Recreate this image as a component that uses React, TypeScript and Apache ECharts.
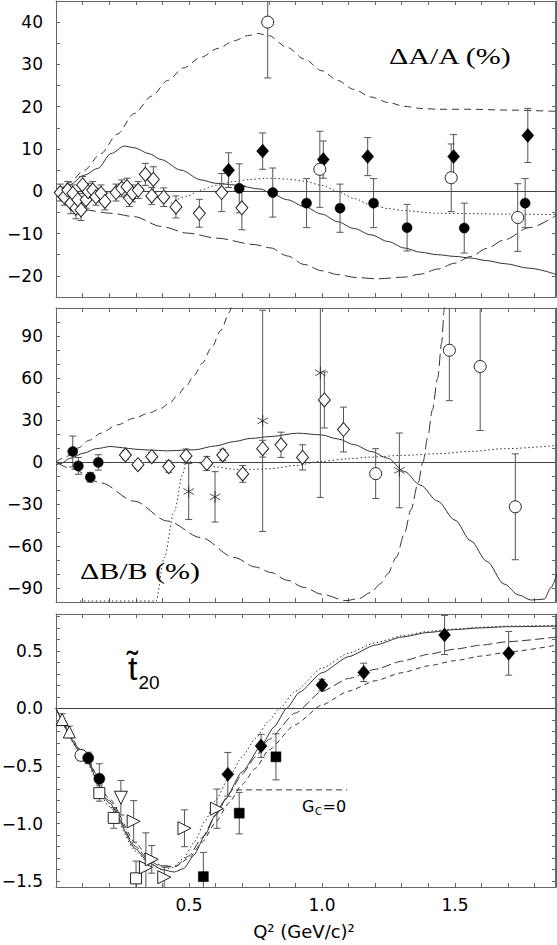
import React, { useEffect, useRef } from "react";
import * as echarts from "echarts";

// ---------- axes: ticks and labels ----------
const X_MIN = 0;
const X_MAX = 1.88;
const xTicks = [0.1, 0.2, 0.3, 0.4, 0.5, 0.6, 0.7, 0.8, 0.9, 1.0, 1.1, 1.2, 1.3, 1.4, 1.5, 1.6, 1.7, 1.8];
const xLabels = [0.5, 1.0, 1.5];

const yRangeA = [-25, 45];
const yTicksA = [-20, -15, -10, -5, 0, 5, 10, 15, 20, 25, 30, 35, 40];
const yLabelsA = [-20, -10, 0, 10, 20, 30, 40];

const yRangeB = [-100, 110];
const yTicksB = [-90, -80, -70, -60, -50, -40, -30, -20, -10, 0, 10, 20, 30, 40, 50, 60, 70, 80, 90, 100];
const yLabelsB = [-90, -60, -30, 0, 30, 60, 90];

const yRangeT = [-1.55, 0.82];
const yTicksT = [-1.5, -1.4, -1.3, -1.2, -1.1, -1.0, -0.9, -0.8, -0.7, -0.6, -0.5, -0.4, -0.3, -0.2, -0.1, 0, 0.1, 0.2, 0.3, 0.4, 0.5, 0.6, 0.7, 0.8];
const yLabelsT = [-1.5, -1.0, -0.5, 0.0, 0.5];

// ---------- panel 1: ΔA/A (%) ----------  [Q2, value, error]
const A_openDiamond = [
  [0.016, -0.3, 2], [0.031, -1.3, 2], [0.044, 0.3, 2], [0.056, -2.8, 2.5], [0.063, -0.5, 2],
  [0.075, -4.0, 2.5], [0.082, -2.0, 2], [0.094, -4.4, 2.5], [0.1, 1.5, 2], [0.113, -2.0, 2],
  [0.121, -0.1, 2], [0.138, 0.3, 2], [0.15, -1.3, 2], [0.169, -0.5, 2], [0.184, -2.4, 2],
  [0.226, -0.3, 2], [0.247, 0.7, 2], [0.267, 1.1, 2], [0.276, -1.6, 2], [0.288, -0.5, 2],
  [0.309, 0.3, 2], [0.336, 4.0, 2.6], [0.36, -1.1, 2], [0.366, 2.8, 3], [0.405, -1.4, 2.2],
  [0.451, -3.7, 2.6], [0.539, -5.2, 3.3], [0.623, -0.3, 4.5], [0.699, -3.9, 5.2],
];
const A_fullDiamond = [
  [0.649, 5.0, 4.1], [0.777, 9.5, 4.3], [1.005, 7.5, 4.4], [1.172, 8.2, 4.5], [1.495, 8.2, 5.2], [1.774, 13.2, 6.4],
];
const A_fullCircle = [
  [0.689, 0.7, 5.8], [0.815, -0.3, 5.8], [0.942, -2.8, 5.8], [1.068, -4.0, 5.7],
  [1.194, -2.8, 5.8], [1.32, -8.6, 5.5], [1.535, -8.7, 5.9], [1.764, -2.8, 5.8],
];
const A_openCircle = [
  [0.796, 40, 13.2], [0.992, 5.2, 9], [1.486, 3.2, 8], [1.736, -6.2, 8],
];
const A_curveSolid = [
  [0, 0], [0.05, 1.5], [0.106, 3.8], [0.157, 5.4], [0.207, 8.9], [0.257, 10.7], [0.294, 10.3],
  [0.35, 8.9], [0.395, 7.5], [0.47, 5.0], [0.545, 2.7], [0.6, 1.9], [0.67, 1.5], [0.771, 0.5],
  [0.808, -0.5], [0.87, -2.0], [0.933, -3.6], [1.0, -5.4], [1.059, -7.2], [1.12, -8.8], [1.184, -10.3],
  [1.25, -11.9], [1.309, -13.4], [1.37, -14.4], [1.435, -15.0], [1.5, -15.4], [1.56, -15.8],
  [1.62, -16.4], [1.685, -17.1], [1.78, -18.2], [1.883, -19.7],
];
const A_curveDashed = [
  [0, 0], [0.05, 2], [0.106, 5.0], [0.169, 8.9], [0.23, 13.5], [0.294, 18.4], [0.36, 22.5],
  [0.42, 26.2], [0.48, 29.2], [0.545, 31.7], [0.61, 33.8], [0.67, 35.6], [0.72, 36.8], [0.76, 37.3],
  [0.8, 36.8], [0.87, 34], [0.933, 31.3], [1.0, 28.5], [1.059, 26.2], [1.12, 24.1], [1.184, 22.3],
  [1.25, 21], [1.309, 20.1], [1.37, 19.6], [1.435, 19.4], [1.56, 19.4], [1.7, 19.2], [1.883, 18.9],
];
const A_curveDashDot = [
  [0, 0], [0.05, -2.5], [0.106, -4.4], [0.207, -5.2], [0.294, -6.0], [0.395, -8.3], [0.495, -9.9],
  [0.608, -11.1], [0.745, -12.6], [0.808, -13.4], [0.87, -15.3], [0.933, -17.3], [1.0, -18.8],
  [1.059, -19.7], [1.13, -20.4], [1.209, -20.7], [1.309, -20.3], [1.37, -19.6], [1.435, -18.4],
  [1.5, -17], [1.56, -15.4], [1.62, -13.5], [1.685, -11.5], [1.78, -8.6], [1.883, -5.6],
];
const A_curveDotted = [
  [0.432, -2.8], [0.49, -1.2], [0.545, 0.3], [0.6, 1.4], [0.67, 2.3], [0.73, 2.8], [0.796, 3.1],
  [0.87, 2.9], [0.933, 2.4], [1.0, 1.4], [1.059, 0], [1.12, -1.7], [1.184, -3.2], [1.25, -4.1],
  [1.309, -4.6], [1.435, -5.2], [1.56, -5.3], [1.7, -5.4], [1.883, -5.5],
];

// ---------- panel 2: ΔB/B (%) ----------
const B_fullCircle = [
  [0.063, 7.5, 11], [0.084, -2.8, 6], [0.129, -10.9, 3.5], [0.159, -0.3, 5.5],
];
const B_openDiamond = [
  [0.261, 5, 3], [0.308, -1.9, 3], [0.36, 3.8, 3], [0.424, -3.3, 4], [0.489, 4.3, 5],
  [0.567, -1, 5], [0.627, 5, 4], [0.702, -8.5, 6], [0.777, 9.5, 6], [0.846, 12.3, 9],
  [0.927, 3.3, 9], [1.009, 44.3, 20], [1.081, 23.2, 16],
];
const B_star = [
  [0.499, -21.1, 20], [0.598, -24.9, 18], [0.777, 29.4, 79], [0.994, 63.7, 89], [1.291, -6.0, 26.7],
];
const B_openCircle = [
  [1.202, -8.3, 17.8], [1.479, 79.8, 36], [1.595, 68.2, 45.7], [1.727, -32.0, 37.8],
];
const B_curveSolid = [
  [0, -2], [0.02, -1], [0.05, 2.5], [0.106, 6.4], [0.15, 9.5], [0.207, 11.1], [0.25, 10.2],
  [0.294, 9.2], [0.35, 8.5], [0.42, 8], [0.52, 8.7], [0.6, 11.5], [0.67, 14.6], [0.73, 16.8],
  [0.808, 18.2], [0.909, 20.6], [0.996, 19.4], [1.06, 16.5], [1.122, 12.3], [1.185, 7.5],
  [1.247, 2.8], [1.309, -6.7], [1.37, -16.5], [1.435, -28], [1.5, -41.5], [1.56, -56.4],
  [1.62, -71], [1.685, -87.2], [1.74, -95], [1.786, -98.6], [1.836, -97.9], [1.86, -90], [1.883, -80],
];
const B_curveDashed = [
  [0, 0], [0.04, 4], [0.082, 10], [0.125, 15.5], [0.169, 20.6], [0.23, 26.5], [0.294, 31.3],
  [0.35, 35], [0.395, 38.4], [0.43, 42.5], [0.457, 47.8], [0.49, 54.5], [0.52, 62], [0.55, 70.5],
  [0.583, 81], [0.62, 94], [0.652, 107], [0.66, 112],
];
const B_curveDashDot = [
  [0, 0], [0.06, -5], [0.169, -14.9], [0.294, -28], [0.42, -42.2], [0.545, -54], [0.67, -68.2],
  [0.75, -75], [0.808, -78.9], [0.87, -84.5], [0.933, -89.6], [1.0, -94.5], [1.09, -99],
  [1.14, -97.5], [1.184, -93.1], [1.22, -87], [1.247, -80], [1.28, -68], [1.309, -51.7],
  [1.335, -34], [1.36, -16.1], [1.38, 0], [1.397, 17], [1.415, 37], [1.435, 59.7], [1.45, 85],
  [1.46, 109.5], [1.465, 120],
];
const B_curveDotted = [
  [0.09, -99.3], [0.376, -99.3], [0.407, -68.2], [0.445, -35.1], [0.476, -9], [0.489, 0.4],
  [0.545, -0.7], [0.6, -3.5], [0.67, -5.2], [0.75, -5.2], [0.808, -4.8], [0.9, -2.5], [0.994, 0.4],
  [1.1, 2.3], [1.184, 3.5], [1.3, 4.7], [1.435, 5.9], [1.56, 7.6], [1.685, 9.5], [1.883, 11.8],
];

// ---------- panel 3: t20 ----------
const T_triUp = [[0.023, -0.096, 0.05], [0.05, -0.204, 0.05]];
const T_openCircle = [[0.094, -0.407, 0.04]];
const T_fullCircle = [[0.121, -0.43, 0.05], [0.163, -0.61, 0.13]];
const T_openSquare = [[0.163, -0.735, 0.07], [0.217, -0.95, 0.09], [0.301, -1.475, 0.15]];
const T_triDown = [[0.244, -0.775, 0.15]];
const T_triRight = [
  [0.292, -0.98, 0.18], [0.338, -1.38, 0.3], [0.36, -1.31, 0.12], [0.407, -1.465, 0.1],
  [0.483, -1.04, 0.16], [0.605, -0.87, 0.17],
];
const T_fullSquare = [[0.554, -1.46, 0.21], [0.689, -0.909, 0.18], [0.827, -0.42, 0.2]];
const T_fullDiamond = [
  [0.646, -0.572, 0.19], [0.771, -0.325, 0.1], [1.0, 0.203, 0.05], [1.157, 0.313, 0.08],
  [1.461, 0.638, 0.17], [1.702, 0.479, 0.19],
];
const T_curveSolid = [
  [0, 0], [0.1, -0.4], [0.2, -0.82], [0.3, -1.22], [0.35, -1.34], [0.4, -1.4], [0.445, -1.42],
  [0.48, -1.39], [0.52, -1.27], [0.56, -1.1], [0.6, -0.92], [0.633, -0.8], [0.7, -0.55],
  [0.771, -0.325], [0.82, -0.16], [0.867, 0], [0.915, 0.14], [1.0, 0.31], [1.1, 0.45], [1.2, 0.55],
  [1.3, 0.62], [1.4, 0.66], [1.5, 0.685], [1.6, 0.7], [1.7, 0.71], [1.883, 0.715],
];
const T_curveDotted = [
  [0, 0], [0.1, -0.41], [0.2, -0.85], [0.3, -1.24], [0.35, -1.35], [0.4, -1.4], [0.44, -1.38],
  [0.48, -1.3], [0.52, -1.16], [0.56, -0.98], [0.6, -0.8], [0.65, -0.6], [0.7, -0.42],
  [0.75, -0.26], [0.8, -0.11], [0.84, 0], [0.9, 0.15], [1.0, 0.35], [1.1, 0.48], [1.2, 0.57],
  [1.3, 0.63], [1.4, 0.67], [1.5, 0.69], [1.6, 0.705], [1.7, 0.715], [1.883, 0.72],
];
const T_curveDashA = [
  [0, 0], [0.1, -0.38], [0.2, -0.8], [0.3, -1.2], [0.35, -1.32], [0.4, -1.38], [0.45, -1.37],
  [0.5, -1.28], [0.55, -1.12], [0.6, -0.93], [0.65, -0.74], [0.7, -0.57], [0.75, -0.42],
  [0.8, -0.27], [0.9, -0.04], [1.0, 0.15], [1.1, 0.26], [1.2, 0.34], [1.3, 0.41], [1.4, 0.47],
  [1.5, 0.515], [1.6, 0.55], [1.7, 0.58], [1.883, 0.62],
];
const T_curveDashB = [
  [0, 0], [0.1, -0.37], [0.2, -0.78], [0.3, -1.17], [0.35, -1.3], [0.4, -1.37], [0.45, -1.37],
  [0.5, -1.3], [0.55, -1.16], [0.6, -0.99], [0.65, -0.82], [0.7, -0.66], [0.75, -0.52],
  [0.8, -0.36], [0.9, -0.14], [1.0, 0.03], [1.1, 0.15], [1.2, 0.24], [1.3, 0.31], [1.4, 0.37],
  [1.5, 0.415], [1.6, 0.455], [1.7, 0.49], [1.883, 0.55],
];
const T_GC0 = [[0.677, -0.707], [1.094, -0.707]];

// ---------- styling ----------
const AX = "#666";
const LINE = "#333";
const ERR = "#555";
const FONT = "DejaVu Sans";
const STAR = "path://M0,-1L0,1M-0.87,-0.5L0.87,0.5M-0.87,0.5L0.87,-0.5";

const fmtInt = (v: number) => String(Math.round(v)).replace("-", "\u2212");
const fmtDec = (v: number) => (Math.abs(v) < 1e-9 ? "0.0" : v.toFixed(1).replace("-", "\u2212"));

function buildOption() {
  const grids = [
    { left: 56, width: 500, top: 1, height: 296 },
    { left: 56, width: 500, top: 308, height: 294 },
    { left: 56, width: 500, top: 614, height: 273 },
  ].map((g) => ({ ...g, show: false, containLabel: false, outerBoundsMode: "none" }));

  const axisLine = { show: true, onZero: false, lineStyle: { color: AX, width: 1 } };
  const xAxis: any[] = [];
  const yAxis: any[] = [];
  const yDefs = [
    { range: yRangeA, ticks: yTicksA, labels: yLabelsA, fmt: fmtInt },
    { range: yRangeB, ticks: yTicksB, labels: yLabelsB, fmt: fmtInt },
    { range: yRangeT, ticks: yTicksT, labels: yLabelsT, fmt: fmtDec },
  ];
  for (let g = 0; g < 3; g++) {
    const xb = {
      type: "value", gridIndex: g, min: X_MIN, max: X_MAX,
      splitLine: { show: false }, axisLine,
      axisTick: { show: true, inside: true, length: 4, customValues: xTicks, lineStyle: { color: AX, width: 1 } },
      minorTick: { show: false },
    };
    xAxis.push({
      ...xb, position: "bottom",
      axisLabel: g === 2
        ? { show: true, customValues: xLabels, formatter: fmtDec, fontFamily: FONT, fontSize: 17, color: "#000", margin: 9 }
        : { show: false },
    });
    xAxis.push({ ...xb, position: "top", axisLabel: { show: false } });
    const d = yDefs[g];
    const yb = {
      type: "value", gridIndex: g, min: d.range[0], max: d.range[1],
      splitLine: { show: false }, axisLine,
      axisTick: { show: true, inside: true, length: 4, customValues: d.ticks, lineStyle: { color: AX, width: 1 } },
      minorTick: { show: false },
    };
    yAxis.push({
      ...yb, position: "left",
      axisLabel: { show: true, customValues: d.labels, formatter: d.fmt, fontFamily: FONT, fontSize: 17, color: "#000", margin: 13 },
    });
    yAxis.push({ ...yb, position: "right", axisLabel: { show: false } });
  }

  const zeroLine = {
    silent: true, symbol: ["none", "none"], label: { show: false },
    lineStyle: { color: "#444", width: 1, type: "solid" }, data: [{ yAxis: 0 }],
  };

  const curve = (g: number, data: number[][], dash: any, withZero = false, smooth = 0.3) => ({
    type: "line", xAxisIndex: g * 2, yAxisIndex: g * 2, data,
    showSymbol: false, symbol: "none", smooth, smoothMonotone: "x",
    lineStyle: { color: LINE, width: 1, type: dash }, z: 2, silent: true, clip: true,
    ...(withZero ? { markLine: zeroLine } : {}),
  });

  const errRender = (params: any, api: any) => {
    const x = api.value(0), y = api.value(1), e = api.value(2);
    const t = api.coord([x, y + e]);
    const b = api.coord([x, y - e]);
    const w = 3.5;
    const st = { stroke: ERR, lineWidth: 1 };
    return {
      type: "group",
      children: [
        { type: "line", shape: { x1: t[0], y1: t[1], x2: b[0], y2: b[1] }, style: st },
        { type: "line", shape: { x1: t[0] - w, y1: t[1], x2: t[0] + w, y2: t[1] }, style: st },
        { type: "line", shape: { x1: b[0] - w, y1: b[1], x2: b[0] + w, y2: b[1] }, style: st },
      ],
    };
  };
  const errs = (g: number, data: number[][]) => ({
    type: "custom", xAxisIndex: g * 2, yAxisIndex: g * 2, data,
    encode: { x: 0, y: 1 }, renderItem: errRender, clip: true, z: 3, silent: true,
  });

  const pts = (g: number, data: number[][], symbol: string, size: any, filled: boolean, rotate = 0) => ({
    type: "scatter", xAxisIndex: g * 2, yAxisIndex: g * 2, data,
    encode: { x: 0, y: 1 }, symbol, symbolSize: size, symbolRotate: rotate, symbolKeepAspect: true,
    itemStyle: filled
      ? { color: "#000", borderColor: "#000", borderWidth: 0.5, opacity: 1 }
      : { color: "#fff", borderColor: "#222", borderWidth: 1, opacity: 1 },
    z: 5, silent: true, clip: true,
  });
  const stars = (g: number, data: number[][]) => ({
    type: "scatter", xAxisIndex: g * 2, yAxisIndex: g * 2, data,
    encode: { x: 0, y: 1 }, symbol: STAR, symbolSize: 12, symbolKeepAspect: true,
    itemStyle: { color: "transparent", borderColor: "#222", borderWidth: 1 },
    z: 5, silent: true,
  });

  const series: any[] = [
    // panel 1
    curve(0, A_curveSolid, "solid", true),
    curve(0, A_curveDashed, [7, 5]),
    curve(0, A_curveDashDot, [12, 5]),
    curve(0, A_curveDotted, [1.5, 2.5]),
    errs(0, A_openDiamond), errs(0, A_fullDiamond), errs(0, A_fullCircle), errs(0, A_openCircle),
    pts(0, A_openDiamond, "diamond", [12, 14], false),
    pts(0, A_fullDiamond, "diamond", [12, 14], true),
    pts(0, A_fullCircle, "circle", 10, true),
    pts(0, A_openCircle, "circle", 12, false),
    // panel 2
    curve(1, B_curveSolid, "solid", true),
    curve(1, B_curveDashed, [7, 5]),
    curve(1, B_curveDashDot, [12, 5]),
    curve(1, B_curveDotted, [1.5, 2.5]),
    errs(1, B_fullCircle), errs(1, B_openDiamond), errs(1, B_star), errs(1, B_openCircle),
    pts(1, B_fullCircle, "circle", 10, true),
    pts(1, B_openDiamond, "diamond", [12, 14], false),
    stars(1, B_star),
    pts(1, B_openCircle, "circle", 12, false),
    // panel 3
    curve(2, T_curveSolid, "solid", true, 0.2),
    curve(2, T_curveDotted, [1.5, 2.5], false, 0.2),
    curve(2, T_curveDashA, [9, 4], false, 0.2),
    curve(2, T_curveDashB, [5, 4], false, 0.2),
    curve(2, T_GC0, [6, 4], false, 0),
    errs(2, T_triUp), errs(2, T_openCircle), errs(2, T_fullCircle), errs(2, T_openSquare),
    errs(2, T_triDown), errs(2, T_triRight), errs(2, T_fullSquare), errs(2, T_fullDiamond),
    pts(2, T_triUp, "triangle", 12, false),
    pts(2, T_openCircle, "circle", 12, false),
    pts(2, T_fullCircle, "circle", 11, true),
    pts(2, T_openSquare, "rect", 11, false),
    pts(2, T_triDown, "triangle", 13, false, 180),
    pts(2, T_triRight, "triangle", 13, false, -90),
    pts(2, T_fullSquare, "rect", 10, true),
    pts(2, T_fullDiamond, "diamond", [12, 14], true),
  ];

  const txt = (text: string, x: number, y: number, size: number, family: string, extra: any = {}) => ({
    type: "text", x, y, silent: true, ...extra,
    style: { text, fontSize: size, fontFamily: family, fill: "#000", align: "left", verticalAlign: "middle" },
  });

  const graphic = [
    // frames
    ...[0, 1, 2].map((g) => ({
      type: "rect", silent: true, z: 0,
      shape: { x: grids[g].left + 0.5, y: grids[g].top + 0.5, width: grids[g].width - 1, height: grids[g].height },
      style: { fill: "none", stroke: AX, lineWidth: 1 },
    })),
    txt("\u0394A/A (%)", 389, 56, 24, "Liberation Serif", { scaleX: 1.25 }),
    txt("\u0394B/B (%)", 80, 571, 24, "Liberation Serif", { scaleX: 1.25 }),
    txt("t\u0303", 128, 668, 34, "Liberation Sans"),
    txt("20", 138.5, 682, 19, "Liberation Sans"),
    txt("G", 302, 806, 16, FONT),
    txt("C", 315, 811, 10, FONT),
    txt("=0", 322.5, 806, 16, FONT),
    {
      type: "text", x: 304, y: 931, silent: true,
      style: { text: "Q\u00b2 (GeV/c)\u00b2", fontSize: 18, fontFamily: FONT, fill: "#000", align: "center", verticalAlign: "middle" },
    },
  ];

  return {
    animation: false,
    backgroundColor: "#fff",
    grid: grids,
    xAxis,
    yAxis,
    series,
    graphic,
  };
}

export default function App() {
  const ref = useRef<HTMLDivElement>(null);
  useEffect(() => {
    if (!ref.current) return;
    const chart = echarts.init(ref.current, undefined, { renderer: "svg" });
    chart.setOption(buildOption() as any);
    return () => chart.dispose();
  }, []);
  return (
    <div
      ref={ref}
      style={{ position: "absolute", left: 0, top: 0, width: 557, height: 945, background: "#fff" }}
    />
  );
}
